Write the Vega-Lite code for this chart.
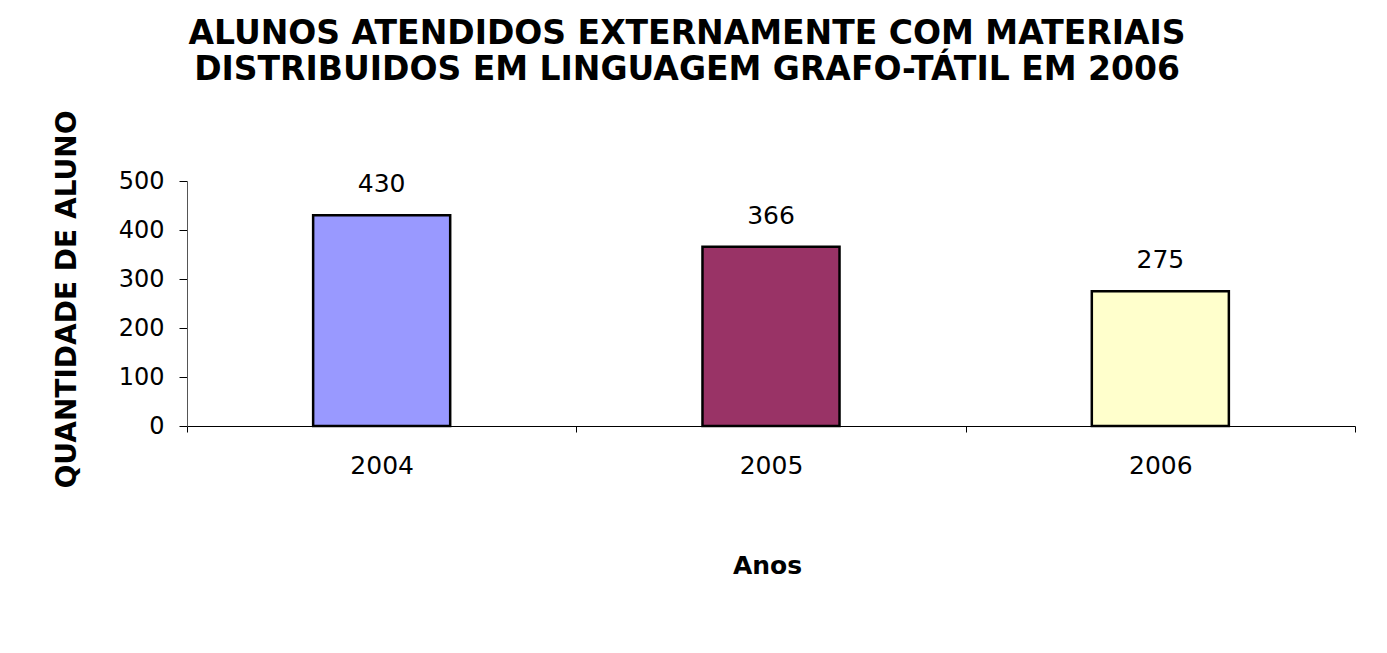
{
  "$schema": "https://vega.github.io/schema/vega-lite/v6.json",
  "autosize": "none",
  "width": 1168,
  "height": 245,
  "padding": {"left": 187, "top": 181, "right": 32, "bottom": 227},
  "background": "white",
  "config": {"view": {"stroke": null}},
  "title": {
    "text": ["ALUNOS ATENDIDOS EXTERNAMENTE COM MATERIAIS", "DISTRIBUIDOS EM LINGUAGEM GRAFO-TÁTIL EM 2006"],
    "font": "DejaVu Sans",
    "fontSize": 33,
    "fontWeight": "bold",
    "color": "#000",
    "lineHeight": 36,
    "anchor": "middle",
    "frame": "group",
    "dx": -84,
    "baseline": "alphabetic",
    "offset": -3
  },
  "data": {
    "values": [
      {"ano": "2004", "alunos": 430},
      {"ano": "2005", "alunos": 366},
      {"ano": "2006", "alunos": 275}
    ]
  },
  "encoding": {
    "x": {
      "field": "ano",
      "type": "nominal",
      "scale": {"paddingInner": 0, "paddingOuter": 0},
      "axis": {
        "title": "Anos",
        "labelAngle": 0,
        "tickBand": "extent",
        "tickSize": 6,
        "tickColor": "#000",
        "domainColor": "#000",
        "labelFont": "DejaVu Sans",
        "labelFontSize": 25,
        "labelColor": "#000",
        "labelBaseline": "alphabetic",
        "labelPadding": 41,
        "titleFont": "DejaVu Sans",
        "titleFontSize": 25,
        "titleFontWeight": "bold",
        "titleColor": "#000",
        "titleBaseline": "alphabetic",
        "titleAlign": "center",
        "titleX": 580,
        "titleY": 147
      }
    },
    "y": {
      "field": "alunos",
      "type": "quantitative",
      "scale": {"domain": [0, 500]},
      "axis": {
        "title": "QUANTIDADE DE ALUNO",
        "values": [0, 100, 200, 300, 400, 500],
        "grid": false,
        "tickSize": 8,
        "tickColor": "#000",
        "domainColor": "#555",
        "labelFont": "DejaVu Sans",
        "labelFontSize": 24,
        "labelColor": "#000",
        "labelPadding": 15,
        "titleFont": "DejaVu Sans",
        "titleFontSize": 28,
        "titleFontWeight": "bold",
        "titleColor": "#000",
        "titleAngle": -90,
        "titleBaseline": "alphabetic",
        "titleAlign": "center",
        "titleX": -112,
        "titleY": 118
      }
    }
  },
  "layer": [
    {
      "mark": {"type": "bar", "width": {"band": 0.352}, "stroke": "#000", "strokeWidth": 2.5},
      "encoding": {
        "color": {
          "field": "ano",
          "type": "nominal",
          "scale": {"domain": ["2004", "2005", "2006"], "range": ["#9999FF", "#993366", "#FFFFCC"]},
          "legend": null
        }
      }
    },
    {
      "mark": {"type": "text", "font": "DejaVu Sans", "fontSize": 25, "color": "#000", "baseline": "alphabetic", "dy": -23},
      "encoding": {"text": {"field": "alunos", "type": "quantitative"}}
    }
  ]
}
